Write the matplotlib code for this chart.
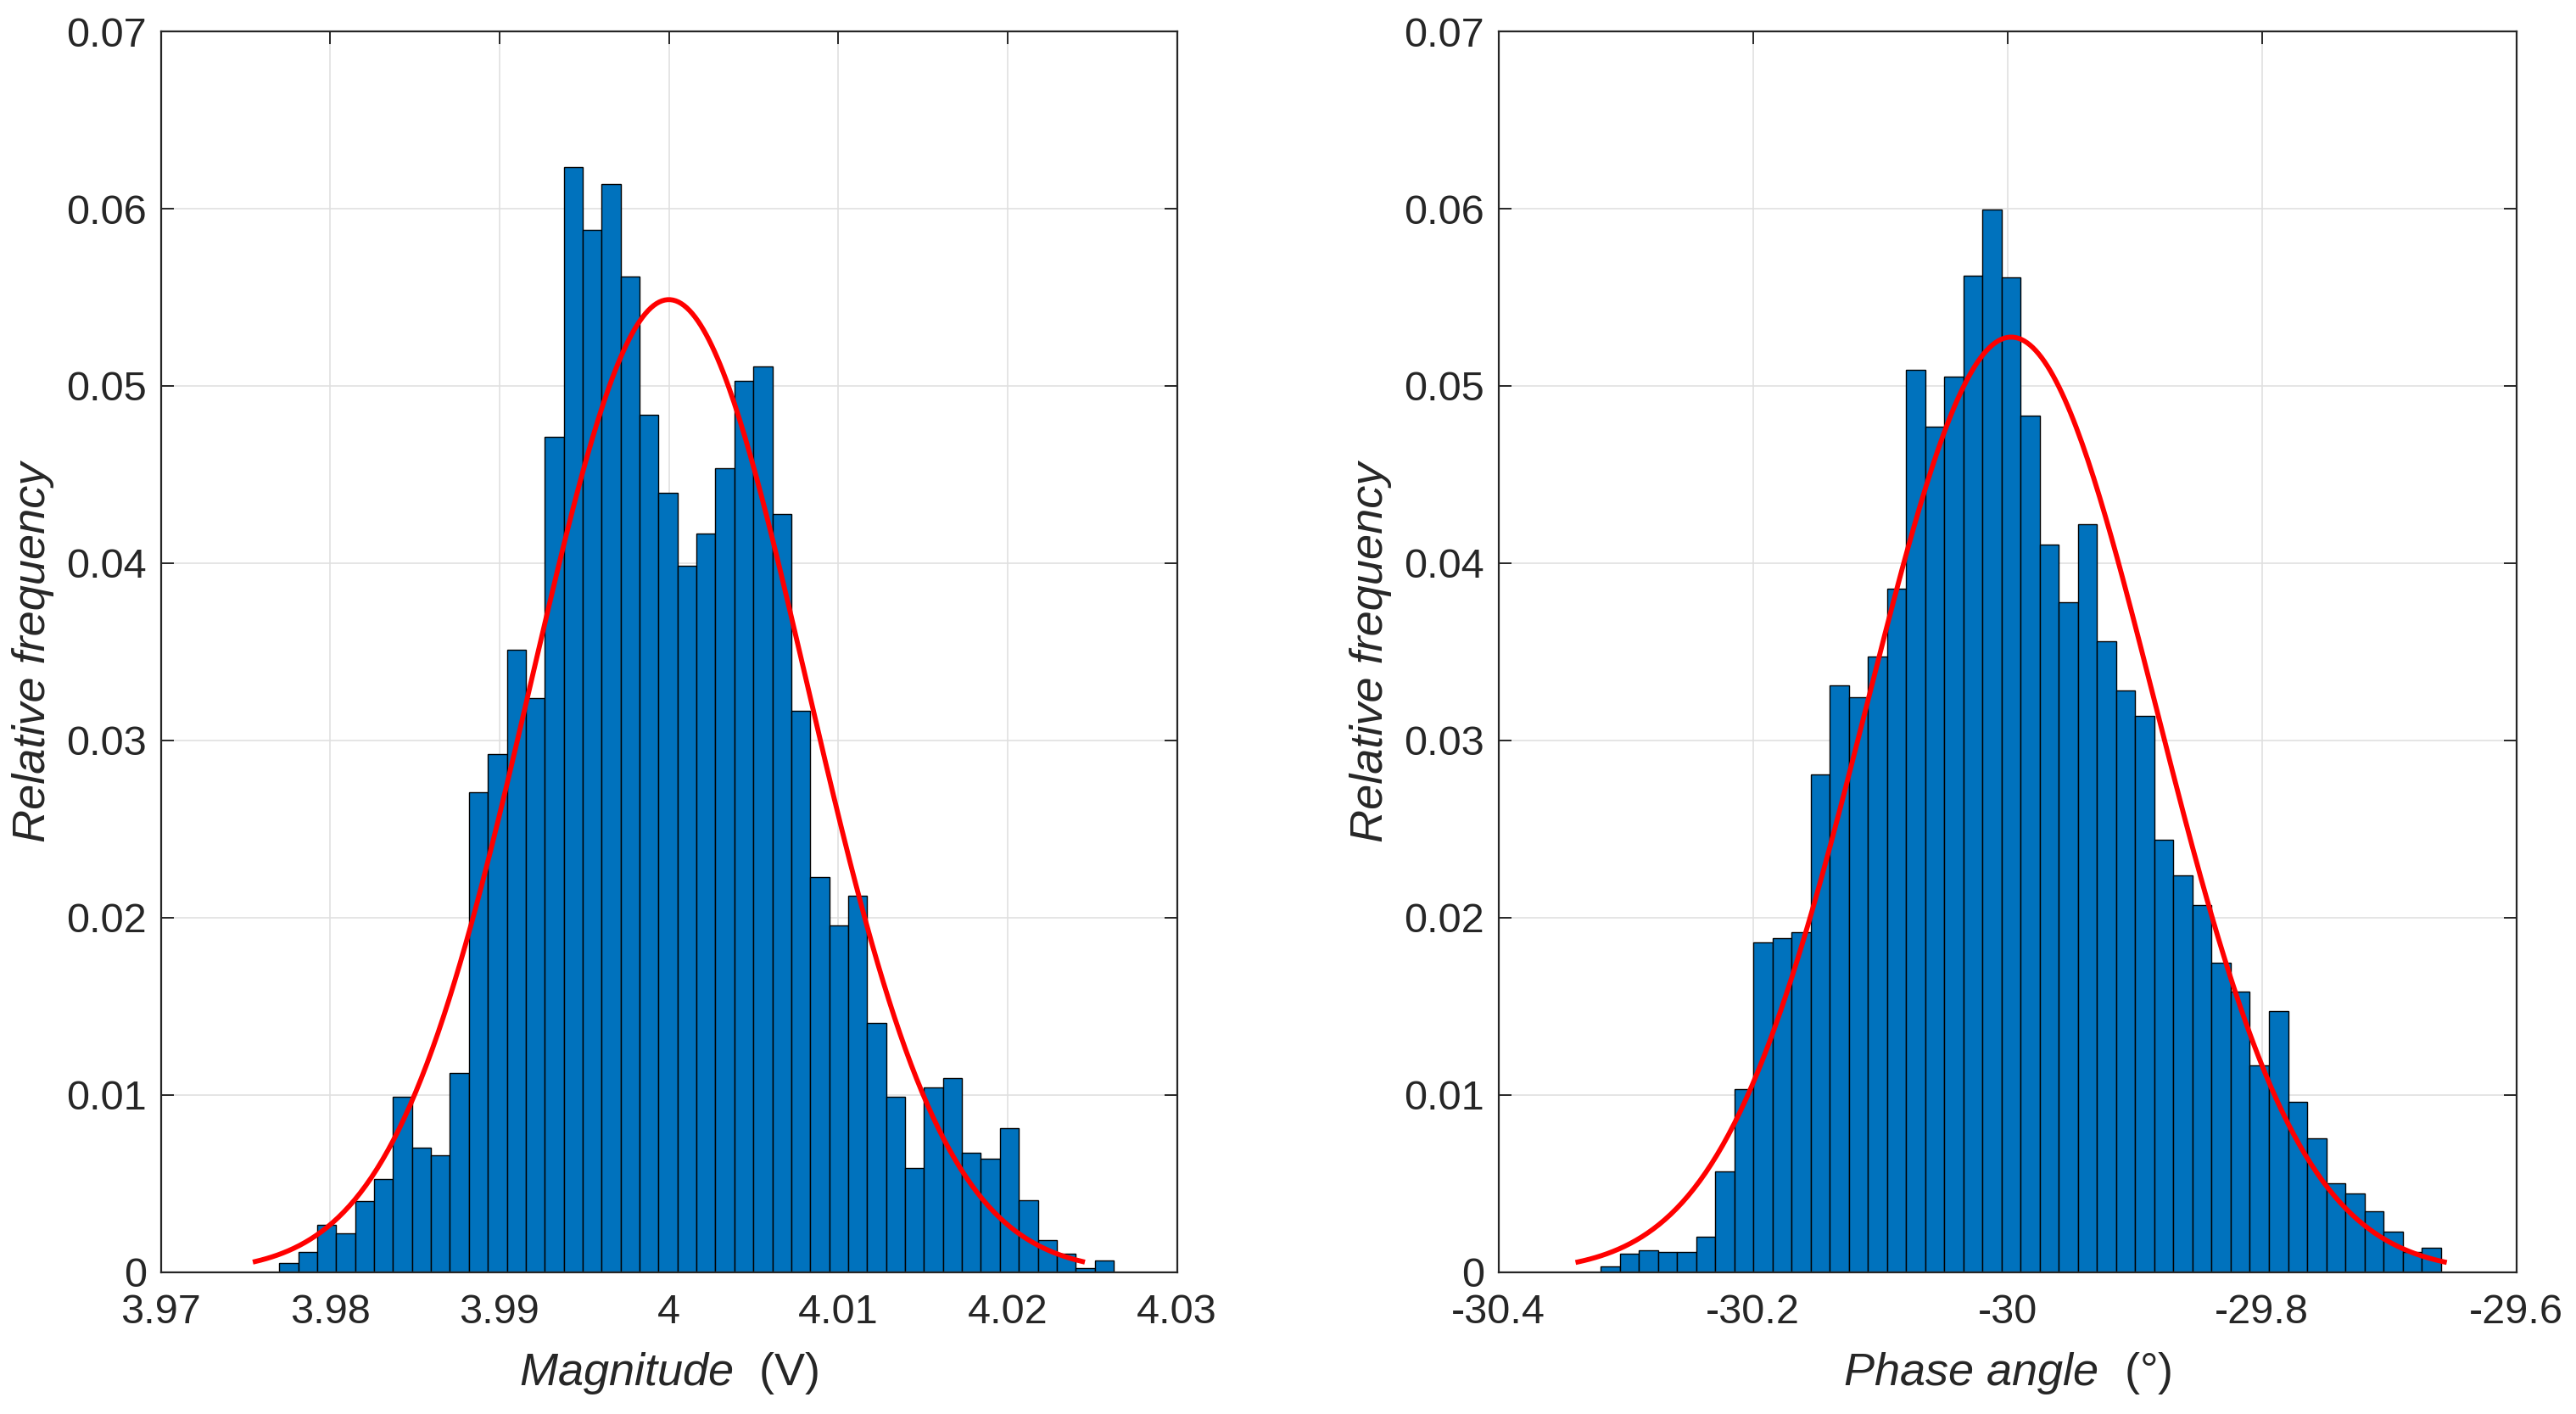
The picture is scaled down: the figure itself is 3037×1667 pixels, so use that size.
import numpy as np
from matplotlib import pyplot as plt
from matplotlib.ticker import FuncFormatter

plt.rcParams['font.family'] = ['Liberation Sans', 'DejaVu Sans']
plt.rcParams['axes.unicode_minus'] = False
plt.rcParams['mathtext.fontset'] = 'custom'
plt.rcParams['mathtext.it'] = 'Liberation Sans:italic'
plt.rcParams['mathtext.rm'] = 'Liberation Sans'

# 幅值直方图 (相对频率), 44 个区间
mag_lo, mag_hi = 3.9770, 4.02626
mag_freq = [0.00051, 0.00115, 0.00269, 0.00218, 0.00402, 0.00526, 0.00991, 0.00701,
            0.00658, 0.01124, 0.02709, 0.02923, 0.03513, 0.03239, 0.04714, 0.06235,
            0.05880, 0.06137, 0.05615, 0.04838, 0.04397, 0.03987, 0.04167, 0.04538,
            0.05030, 0.05111, 0.04278, 0.03167, 0.02231, 0.01957, 0.02124, 0.01406,
            0.00991, 0.00590, 0.01043, 0.01094, 0.00675, 0.00641, 0.00812, 0.00406,
            0.00184, 0.00107, 0.00026, 0.00068]
mag_mu, mag_sigma = 4.0000, 0.00814

# 相角直方图
ph_lo, ph_hi = -30.3197, -29.6593
ph_freq = [0.00034, 0.00107, 0.00124, 0.00115, 0.00115, 0.00201, 0.00568, 0.01034,
           0.01859, 0.01885, 0.01919, 0.02808, 0.03312, 0.03244, 0.03474, 0.03855,
           0.05090, 0.04769, 0.05051, 0.05620, 0.05996, 0.05611, 0.04833, 0.04103,
           0.03782, 0.04222, 0.03560, 0.03282, 0.03137, 0.02440, 0.02239, 0.02073,
           0.01748, 0.01585, 0.01167, 0.01474, 0.00962, 0.00756, 0.00504, 0.00444,
           0.00346, 0.00231, 0.00115, 0.00137]
ph_mu, ph_sigma = -29.997, 0.1135

mag_xticks = [3.97, 3.98, 3.99, 4.0, 4.01, 4.02, 4.03]
ph_xticks = [-30.4, -30.2, -30.0, -29.8, -29.6]
yticks = [0, 0.01, 0.02, 0.03, 0.04, 0.05, 0.06, 0.07]

dark = '#262626'


def hist_panel(ax, lo, hi, freq, mu, sigma, xlim, xticks, xlabel):
    n = len(freq)
    edges = np.linspace(lo, hi, n + 1)
    bw = edges[1] - edges[0]
    ax.bar(edges[:-1], freq, width=bw, align='edge', color='#0072BD',
           edgecolor='black', linewidth=0.5, zorder=2)
    # 正态拟合曲线 (按区间宽度缩放)
    xs = np.linspace(mu - 3 * sigma, mu + 3 * sigma, 300)
    ys = bw / (sigma * np.sqrt(2 * np.pi)) * np.exp(-0.5 * ((xs - mu) / sigma) ** 2)
    ax.plot(xs, ys, color='red', linewidth=2.1, zorder=3)

    ax.set_xlim(xlim)
    ax.set_ylim(0, 0.07)
    ax.set_xticks(xticks)
    ax.set_yticks(yticks)
    fmt = FuncFormatter(lambda v, p: '%g' % round(v, 6))
    ax.xaxis.set_major_formatter(fmt)
    ax.yaxis.set_major_formatter(fmt)
    ax.grid(True, color='#e0e0e0', linewidth=0.6)
    ax.set_axisbelow(True)
    ax.tick_params(direction='in', top=True, right=True, length=5.5, width=0.7,
                   colors=dark, labelsize=17.5)
    ax.tick_params(axis='x', pad=9)
    ax.tick_params(axis='y', pad=6)
    for s in ax.spines.values():
        s.set_color(dark)
        s.set_linewidth(0.8)
    ax.set_xlabel(xlabel, fontsize=19.5, color=dark, labelpad=8)
    ax.set_ylabel('Relative frequency', fontsize=19.5, style='italic', color=dark, labelpad=5)


fig = plt.figure(figsize=(15.185, 8.335), dpi=200)
ax1 = fig.add_axes([0.0624, 0.1002, 0.3945, 0.8776])
ax2 = fig.add_axes([0.5817, 0.1002, 0.3951, 0.8776])

hist_panel(ax1, mag_lo, mag_hi, mag_freq, mag_mu, mag_sigma, (3.97, 4.03),
           mag_xticks, r'$\mathit{Magnitude}$  (V)')
hist_panel(ax2, ph_lo, ph_hi, ph_freq, ph_mu, ph_sigma, (-30.4, -29.6),
           ph_xticks, r'$\mathit{Phase\ angle}$  (°)')

fig.savefig('out.png', dpi=200)
